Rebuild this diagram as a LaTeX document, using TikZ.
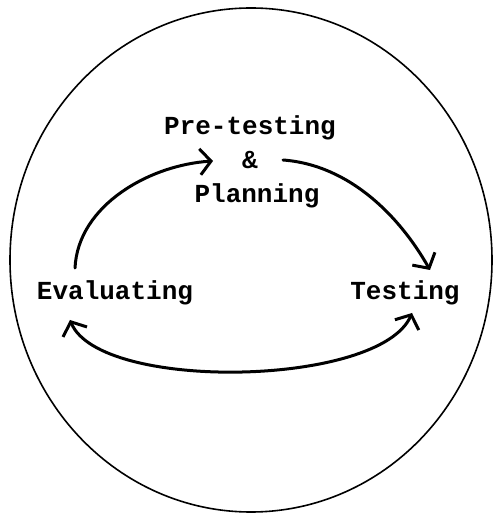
\documentclass[tikz,border=0pt]{standalone}
\usepackage{fontspec}
\setmonofont{Liberation Mono}
\usetikzlibrary{arrows.meta,shapes.geometric}
\tikzset{
  lbl/.style={font=\ttfamily\bfseries\fontsize{26}{34}\selectfont, inner sep=0pt, align=center},
  barb/.tip={Straight Barb[length=11pt,width=26pt,line width=3pt]},
  flow/.style={line width=3pt, line cap=round, -barb},
  flow2/.style={line width=3pt, line cap=round, barb-barb},
}
\begin{document}
\begin{tikzpicture}[x=1pt,y=1pt]
\useasboundingbox (0,0) rectangle (493,517);
\fill[white] (0,0) rectangle (493,517);
\node[draw, line width=1.6pt, ellipse, minimum width=482pt, minimum height=504pt, inner sep=0pt] (circ) at (251,257) {};
\node[lbl] (pre) at (250,355) {Pre-testing\\\&\\\hspace*{14pt}Planning};
\node[lbl] (ev) at (115,224) {Evaluating};
\node[lbl] (te) at (405,224) {Testing};
\draw[flow] ([shift={(-40,25)}]ev.center) .. controls (78,312) and (150,352) .. ([shift={(-37,1)}]pre.center);
\draw[flow] ([shift={(33,2)}]pre.center) .. controls (350,352) and (400,300) .. ([shift={(25,23)}]te.center);
\draw[flow2] ([shift={(-45,-27)}]ev.center) .. controls (100,125) and (380,130) .. ([shift={(7,-20)}]te.center);
\end{tikzpicture}
\end{document}
